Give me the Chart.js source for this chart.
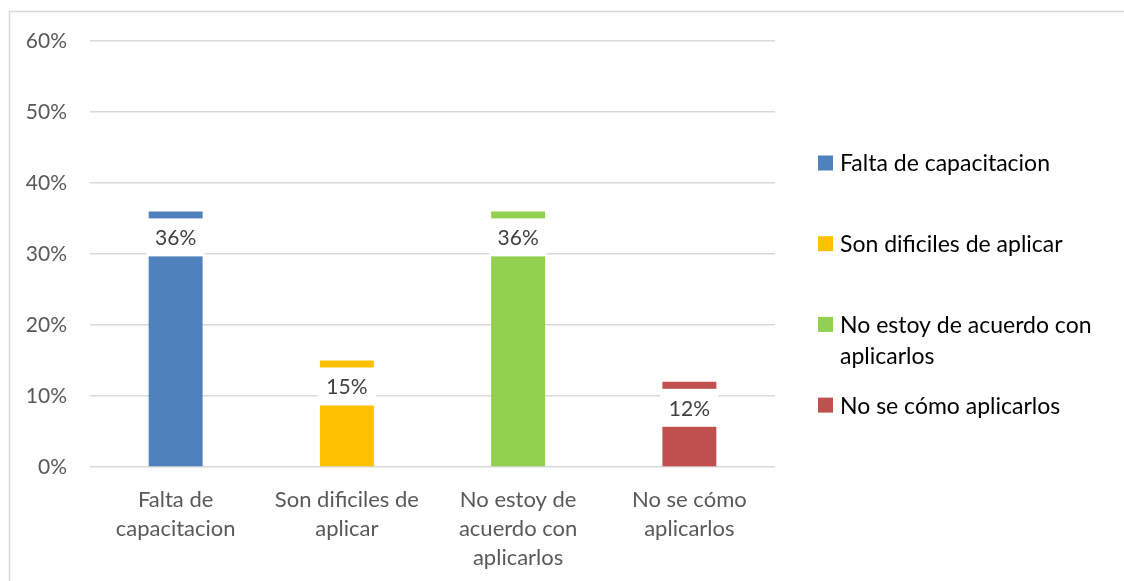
<!DOCTYPE html>
<html><head><meta charset="utf-8">
<script src="https://cdn.jsdelivr.net/npm/chart.js@4.4.1/dist/chart.umd.min.js"></script>
<style>html,body{margin:0;padding:0;background:#fff;overflow:hidden;}</style>
</head><body>
<canvas id="c" width="1124" height="581"></canvas>
<script>
const categories = ['Falta de capacitacion', 'Son dificiles de aplicar', 'No estoy de acuerdo con aplicarlos', 'No se cómo aplicarlos'];
const axisLabels = [['Falta de', 'capacitacion'], ['Son dificiles de', 'aplicar'], ['No estoy de', 'acuerdo con', 'aplicarlos'], ['No se cómo', 'aplicarlos']];
const legendLabels = [['Falta de capacitacion'], ['Son dificiles de aplicar'], ['No estoy de acuerdo con', 'aplicarlos'], ['No se cómo aplicarlos']];
const values = [36, 15, 36, 12];
const colors = ['#4F81BD', '#FFC000', '#92D050', '#C0504D'];
const yMax = 60;
const yStep = 10;

const FONT = 'Lato';

const framePlugin = {
  id: 'frame',
  beforeDraw(chart) {
    const ctx = chart.ctx;
    ctx.save();
    ctx.fillStyle = '#fff';
    ctx.fillRect(0, 0, chart.width, chart.height);
    ctx.strokeStyle = '#d9d9d9';
    ctx.lineWidth = 1.5;
    ctx.beginPath();
    ctx.moveTo(9.5, chart.height);
    ctx.lineTo(9.5, 11.5);
    ctx.lineTo(chart.width, 11.5);
    ctx.stroke();
    ctx.restore();
  }
};

const labelPlugin = {
  id: 'barLabels',
  afterDatasetsDraw(chart) {
    const ctx = chart.ctx;
    const meta = chart.getDatasetMeta(0);
    ctx.save();
    ctx.font = '21px ' + FONT;
    ctx.textAlign = 'center';
    ctx.textBaseline = 'middle';
    meta.data.forEach((bar, i) => {
      const cy = bar.y + 26;
      ctx.fillStyle = '#ffffff';
      ctx.fillRect(bar.x - 29, cy - 19, 58, 38);
      ctx.fillStyle = '#404040';
      ctx.fillText(values[i] + '%', bar.x, cy + 1);
    });
    ctx.restore();
  }
};

const legendPlugin = {
  id: 'sideLegend',
  afterDraw(chart) {
    const ctx = chart.ctx;
    const area = chart.chartArea;
    const boxX = area.right + 43;
    const textX = area.right + 65;
    ctx.save();
    ctx.font = '23px ' + FONT;
    ctx.textAlign = 'left';
    ctx.textBaseline = 'middle';
    legendLabels.forEach((lines, i) => {
      const y = 163 + i * 80.7;
      ctx.fillStyle = colors[i];
      ctx.fillRect(boxX, y - 7.5, 15, 15);
      ctx.fillStyle = '#000000';
      lines.forEach((t, j) => ctx.fillText(t, textX, y + 1 + j * 31));
    });
    ctx.restore();
  }
};

new Chart(document.getElementById('c'), {
  type: 'bar',
  data: {
    labels: axisLabels,
    datasets: [{
      label: 'Porcentaje',
      data: values,
      backgroundColor: colors,
      borderWidth: 0,
      barPercentage: 0.315,
      categoryPercentage: 1
    }]
  },
  options: {
    responsive: false,
    devicePixelRatio: 1,
    animation: false,
    layout: { padding: { left: 0, right: 349, top: 41, bottom: 0 } },
    plugins: { legend: { display: false }, tooltip: { enabled: false } },
    scales: {
      x: {
        grid: { display: false },
        border: { display: false },
        ticks: {
          color: '#595959',
          font: { family: FONT, size: 22, lineHeight: 1.33 },
          padding: 10,
          maxRotation: 0,
          autoSkip: false
        },
        afterFit(scale) { scale.height = 114; }
      },
      y: {
        min: 0,
        max: yMax,
        grid: { color: '#d9d9d9', lineWidth: 1.5, drawTicks: false },
        border: { display: false },
        ticks: {
          stepSize: yStep,
          color: '#595959',
          font: { family: FONT, size: 21 },
          padding: 23,
          callback: v => v + '%'
        },
        afterFit(scale) { scale.width = 90; }
      }
    }
  },
  plugins: [framePlugin, labelPlugin, legendPlugin]
});
</script>
</body></html>
